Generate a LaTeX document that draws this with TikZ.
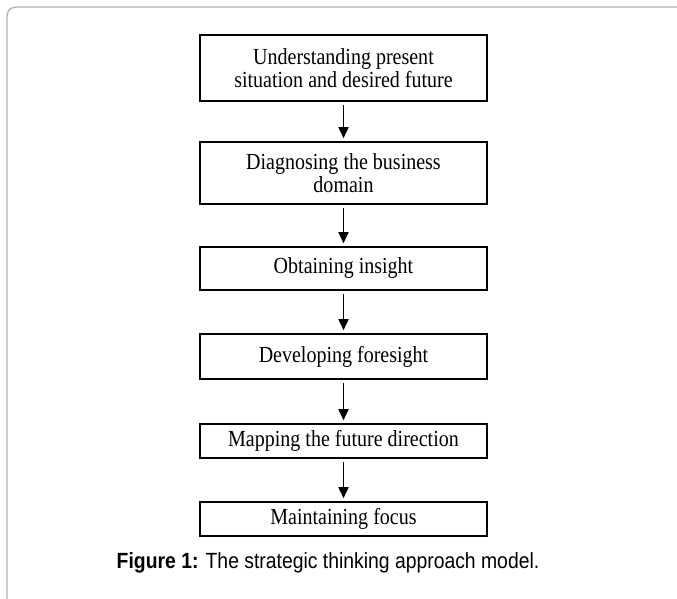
\documentclass[tikz,border=0pt]{standalone}
\usepackage{fontspec}
\setmainfont[FakeStretch=0.87]{Liberation Serif}
\newfontfamily\capfont[FakeStretch=0.88]{Liberation Sans}
\usepackage{tikz}
\usetikzlibrary{arrows.meta}
\usetikzlibrary{positioning}
\tikzset{
	stepbox/.style={draw=black, line width=1.6pt, rectangle, minimum width=287pt,
		align=center, inner sep=0pt, font=\fontsize{23}{23.5}\selectfont},
	flow/.style={line width=1.7pt, -{Triangle[width=10pt,length=11pt]},
		shorten <=3pt, shorten >=3pt},
	frameline/.style={draw=black!30, line width=1.3pt},
}

\begin{document}
\begin{tikzpicture}[x=1pt,y=-1pt]
			\useasboundingbox (0,0) rectangle (677,599);
			% Outer frame
			\draw [frameline] (7,605) -- (7,16) arc [start angle=180, end angle=270, radius=9] -- (690,7);
			% Steps
			\node [stepbox, minimum height=66pt] (underst) at (343.5,68) {Understanding present\\situation and desired future};
			\node [stepbox, minimum height=62pt] (diagn) at (343.5,173) {Diagnosing the business\\domain};
			\node [stepbox, minimum height=43pt] (insight) at (343.5,268.5) {Obtaining insight};
			\node [stepbox, minimum height=45pt] (foresight) at (343.5,356.5) {Developing foresight};
			\node [stepbox, minimum height=34pt] (mapping) at (343.5,441) {Mapping the future direction};
			\node [stepbox, minimum height=34pt] (focus) at (343.5,519) {Maintaining focus};
			% Arrows
			\draw [flow] (underst) -- (diagn);
			\draw [flow] (diagn) -- (insight);
			\draw [flow] (insight) -- (foresight);
			\draw [flow] (foresight) -- (mapping);
			\draw [flow] (mapping) -- (focus);
			% Caption
			\node [font=\capfont\fontsize{22}{24}\selectfont] (caption) at (328,563) {\textbf{Figure 1:} The strategic thinking approach model.};
		\end{tikzpicture}
\end{document}
